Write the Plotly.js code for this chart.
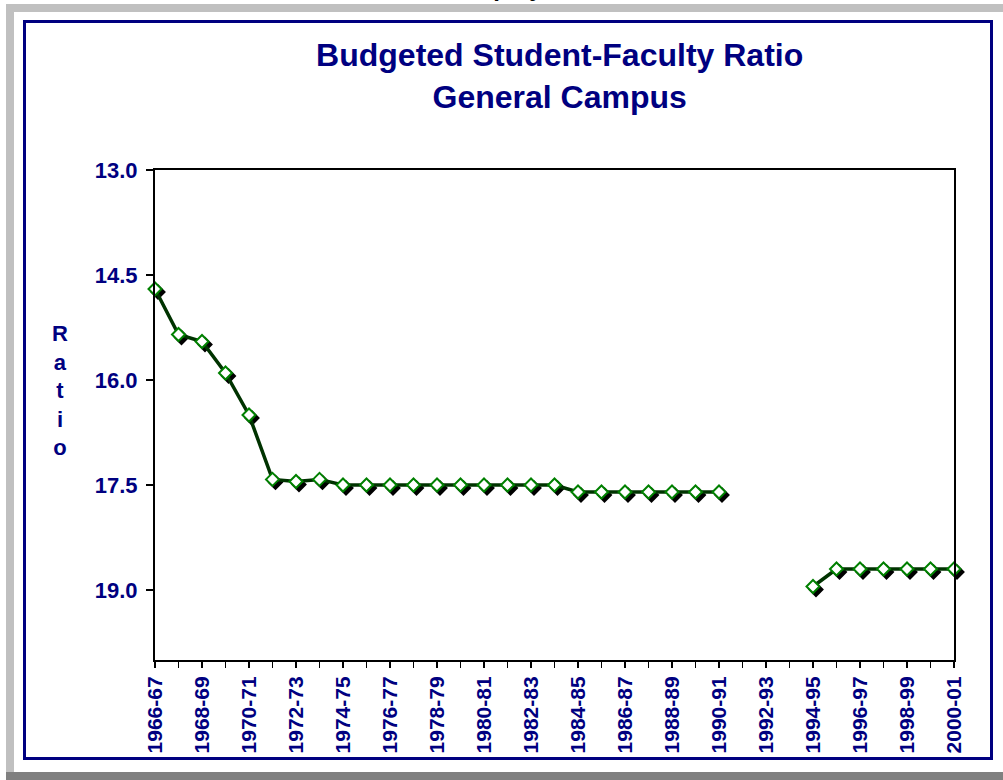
<!DOCTYPE html>
<html>
<head>
<meta charset="utf-8">
<script src="https://cdn.plot.ly/plotly-3.0.1.min.js"></script>
<style>
  html, body { margin: 0; padding: 0; background: #ffffff; width: 1003px; height: 780px; overflow: hidden; position: relative; font-family: "Liberation Sans", Arial, sans-serif; }
  .abs { position: absolute; }
  #cut { left: 456px; top: -24px; font-size: 24px; line-height: 24px; font-weight: bold; color: #000; white-space: nowrap; }
  #bandTop { left: 6px; top: 4px; width: 997px; height: 8px; background: #c0c0c0; }
  #bandLeft { left: 6px; top: 4px; width: 8px; height: 768px; background: #c0c0c0; }
  #bandBottom { left: 6px; top: 772px; width: 997px; height: 8px; background: #808080; }
  #panel { left: 23px; top: 20px; width: 970px; height: 740px; box-sizing: border-box; border: 3px solid #000080; }
  #chart { left: 0; top: 0; width: 1003px; height: 780px; }
</style>
</head>
<body>
<div id="cut" class="abs">Employment</div>
<div id="bandTop" class="abs"></div>
<div id="bandLeft" class="abs"></div>
<div id="bandBottom" class="abs"></div>
<div id="panel" class="abs"></div>
<div id="chart" class="abs"></div>
<script>
// ---- data ----
var years = ['1966-67','1967-68','1968-69','1969-70','1970-71','1971-72','1972-73','1973-74','1974-75','1975-76',
             '1976-77','1977-78','1978-79','1979-80','1980-81','1981-82','1982-83','1983-84','1984-85','1985-86',
             '1986-87','1987-88','1988-89','1989-90','1990-91','1991-92','1992-93','1993-94','1994-95','1995-96',
             '1996-97','1997-98','1998-99','1999-00','2000-01'];
var ratio = [14.7, 15.35, 15.45, 15.9, 16.5, 17.42, 17.45, 17.42, 17.5, 17.5,
             17.5, 17.5, 17.5, 17.5, 17.5, 17.5, 17.5, 17.5, 17.6, 17.6,
             17.6, 17.6, 17.6, 17.6, 17.6, null, null, null, 18.95, 18.7,
             18.7, 18.7, 18.7, 18.7, 18.7];
var yTicks = [13.0, 14.5, 16.0, 17.5, 19.0];
var tickLabels = years.map(function (y, i) { return i % 2 === 0 ? y : ''; });

var FONT = 'Liberation Sans, Arial, Helvetica, sans-serif';
var NAVY = '#000080';

var plotW = 802, plotH = 493, shift = 3;

var shadow = {
  x: years, y: ratio, xaxis: 'x', yaxis: 'y',
  type: 'scatter', mode: 'markers', cliponaxis: false, hoverinfo: 'skip',
  marker: { symbol: 'diamond', size: 10, color: '#000000', line: { color: '#000000', width: 2 } }
};
var main = {
  x: years, y: ratio, xaxis: 'x2', yaxis: 'y2',
  type: 'scatter', mode: 'lines+markers', connectgaps: false, cliponaxis: false,
  line: { color: '#003300', width: 3.5 },
  marker: { symbol: 'diamond', size: 10, color: '#ffffff', line: { color: '#008000', width: 2 } }
};

var layout = {
  width: 1003, height: 780,
  paper_bgcolor: 'rgba(0,0,0,0)', plot_bgcolor: 'rgba(0,0,0,0)',
  margin: { l: 155, r: 1003 - 155 - plotW, t: 170, b: 780 - 170 - plotH, pad: 0 },
  showlegend: false,
  font: { family: FONT, color: NAVY },
  title: {
    text: '<b>Budgeted Student-Faculty Ratio</b><br><b>General Campus</b>',
    font: { family: FONT, size: 32, color: NAVY },
    xref: 'container', x: 0.558, xanchor: 'center',
    yref: 'container', y: 1 - 66 / 780, yanchor: 'top'
  },
  xaxis: {
    type: 'category', domain: [shift / plotW, 1], anchor: 'y',
    range: [0, years.length - 1], visible: false, fixedrange: true
  },
  yaxis: {
    domain: [0, (plotH - shift) / plotH], anchor: 'x',
    range: [20, 13], visible: false, fixedrange: true
  },
  xaxis2: {
    type: 'category', domain: [0, (plotW - shift) / plotW], anchor: 'y2',
    range: [0, years.length - 1],
    showline: true, mirror: true, linecolor: '#000000', linewidth: 2,
    showgrid: false, zeroline: false,
    ticks: 'outside', ticklen: 6, tickwidth: 1.5, tickcolor: '#000000',
    tickmode: 'array', tickvals: years, ticktext: tickLabels, tickangle: -90,
    tickfont: { family: FONT, size: 21, color: NAVY, weight: 'bold' },
    fixedrange: true
  },
  yaxis2: {
    domain: [shift / plotH, 1], anchor: 'x2',
    range: [20, 13],
    showline: true, mirror: true, linecolor: '#000000', linewidth: 2,
    showgrid: false, zeroline: false,
    ticks: 'outside', ticklen: 7, tickwidth: 2, tickcolor: '#000000',
    tickmode: 'array', tickvals: yTicks, tickformat: '.1f',
    ticklabelstandoff: 4,
    tickfont: { family: FONT, size: 22, color: NAVY, weight: 'bold' },
    fixedrange: true
  },
  annotations: [{
    text: '<b>R<br>a<br>t<br>i<br>o</b>',
    xref: 'paper', yref: 'paper',
    x: (60 - 155) / plotW, y: (780 - 117 - 390) / plotH,
    xanchor: 'center', yanchor: 'middle', showarrow: false, align: 'center',
    font: { family: FONT, size: 22, color: NAVY }
  }]
};

Plotly.newPlot('chart', [shadow, main], layout, { displayModeBar: false, staticPlot: true });
</script>
</body>
</html>
